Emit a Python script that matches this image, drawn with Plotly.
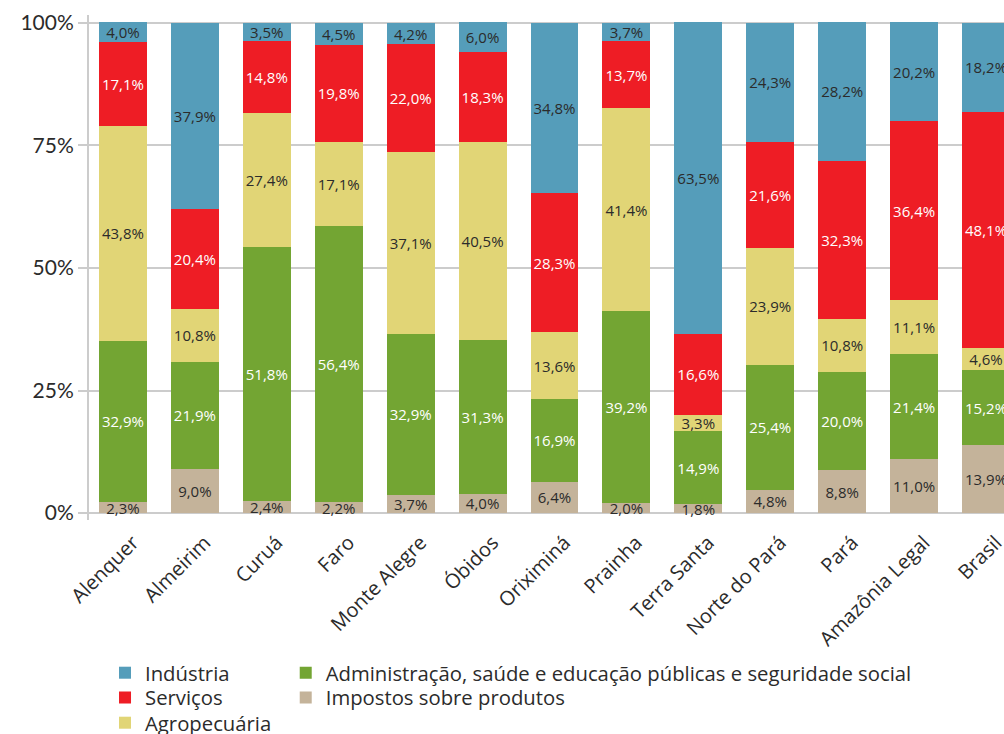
import plotly.graph_objects as go

# Regions (x-axis categories)
regioes = ["Alenquer", "Almeirim", "Curuá", "Faro", "Monte Alegre", "Óbidos",
           "Oriximiná", "Prainha", "Terra Santa", "Norte do Pará", "Pará",
           "Amazônia Legal", "Brasil"]

# Share of value added by sector (%), stacked bottom to top
impostos = [2.3, 9.0, 2.4, 2.2, 3.7, 4.0, 6.4, 2.0, 1.8, 4.8, 8.8, 11.0, 13.9]
administracao = [32.9, 21.9, 51.8, 56.4, 32.9, 31.3, 16.9, 39.2, 14.9, 25.4, 20.0, 21.4, 15.2]
agropecuaria = [43.8, 10.8, 27.4, 17.1, 37.1, 40.5, 13.6, 41.4, 3.3, 23.9, 10.8, 11.1, 4.6]
servicos = [17.1, 20.4, 14.8, 19.8, 22.0, 18.3, 28.3, 13.7, 16.6, 21.6, 32.3, 36.4, 48.1]
industria = [4.0, 37.9, 3.5, 4.5, 4.2, 6.0, 34.8, 3.7, 63.5, 24.3, 28.2, 20.2, 18.2]

y_ticks = [0, 25, 50, 75, 100]

FONT = "Open Sans"
TICK_FONT = "Lato"
DARK = "#2b2b2b"

series = [
    # name, values, colour, label colour, legend slot
    ("Impostos sobre produtos", impostos, "#C4B39A", DARK, "legend5"),
    ("Administração, saúde e educação públicas e seguridade social",
     administracao, "#73A533", "white", "legend4"),
    ("Agropecuária", agropecuaria, "#E1D576", DARK, "legend3"),
    ("Serviços", servicos, "#EE1D25", "white", "legend2"),
    ("Indústria", industria, "#559DBA", DARK, "legend"),
]

# legend grid: two columns, rows 25 px apart below the plot
legend_slots = {
    "legend": (0.0175, -0.303),
    "legend2": (0.0175, -0.352),
    "legend3": (0.0175, -0.402),
    "legend4": (0.215, -0.303),
    "legend5": (0.215, -0.352),
}


def fmt(v):
    return f"{v:.1f}".replace(".", ",") + "%"


fig = go.Figure()
for name, vals, color, tcolor, leg in series:
    fig.add_trace(go.Bar(
        x=regioes, y=vals, name=name,
        marker=dict(color=color, line=dict(width=0)),
        text=[fmt(v) for v in vals],
        textposition="inside",
        insidetextanchor="middle",
        constraintext="none",
        textangle=0,
        textfont=dict(family=FONT, size=15, color=tcolor),
        legend=leg,
        hoverinfo="skip",
    ))

legend_layout = {
    key: dict(
        x=x, y=y, xanchor="left", yanchor="middle",
        orientation="v", tracegroupgap=0,
        font=dict(family=FONT, size=20.3, color=DARK),
        itemwidth=30, bgcolor="rgba(0,0,0,0)",
    )
    for key, (x, y) in legend_slots.items()
}

fig.update_layout(
    barmode="stack",
    bargap=1 / 3,
    width=1004, height=734,
    margin=dict(l=89, r=0, t=15, b=214, autoexpand=False),
    paper_bgcolor="white", plot_bgcolor="white",
    font=dict(family=FONT, color=DARK),
    xaxis=dict(
        range=[-0.472, 12.25],
        tickangle=-45,
        tickfont=dict(family=FONT, size=20, color=DARK),
        ticklabelstandoff=6,
        ticklabelshift=10,
        showgrid=False, showline=False, ticks="",
        automargin=False,
    ),
    yaxis=dict(
        range=[-1.4, 101.6],
        tickvals=y_ticks,
        ticktext=[f"{t}%" for t in y_ticks],
        tickfont=dict(family=TICK_FONT, size=21, color=DARK),
        showgrid=True, gridcolor="#cccccc", gridwidth=1.5,
        zeroline=False,
        showline=True, linecolor="#cccccc", linewidth=2,
        ticks="outside", ticklen=9, tickcolor="#cccccc", tickwidth=1.5,
        layer="below traces",
        automargin=False,
    ),
    showlegend=True,
    **legend_layout,
)

fig.write_html("out.html")
